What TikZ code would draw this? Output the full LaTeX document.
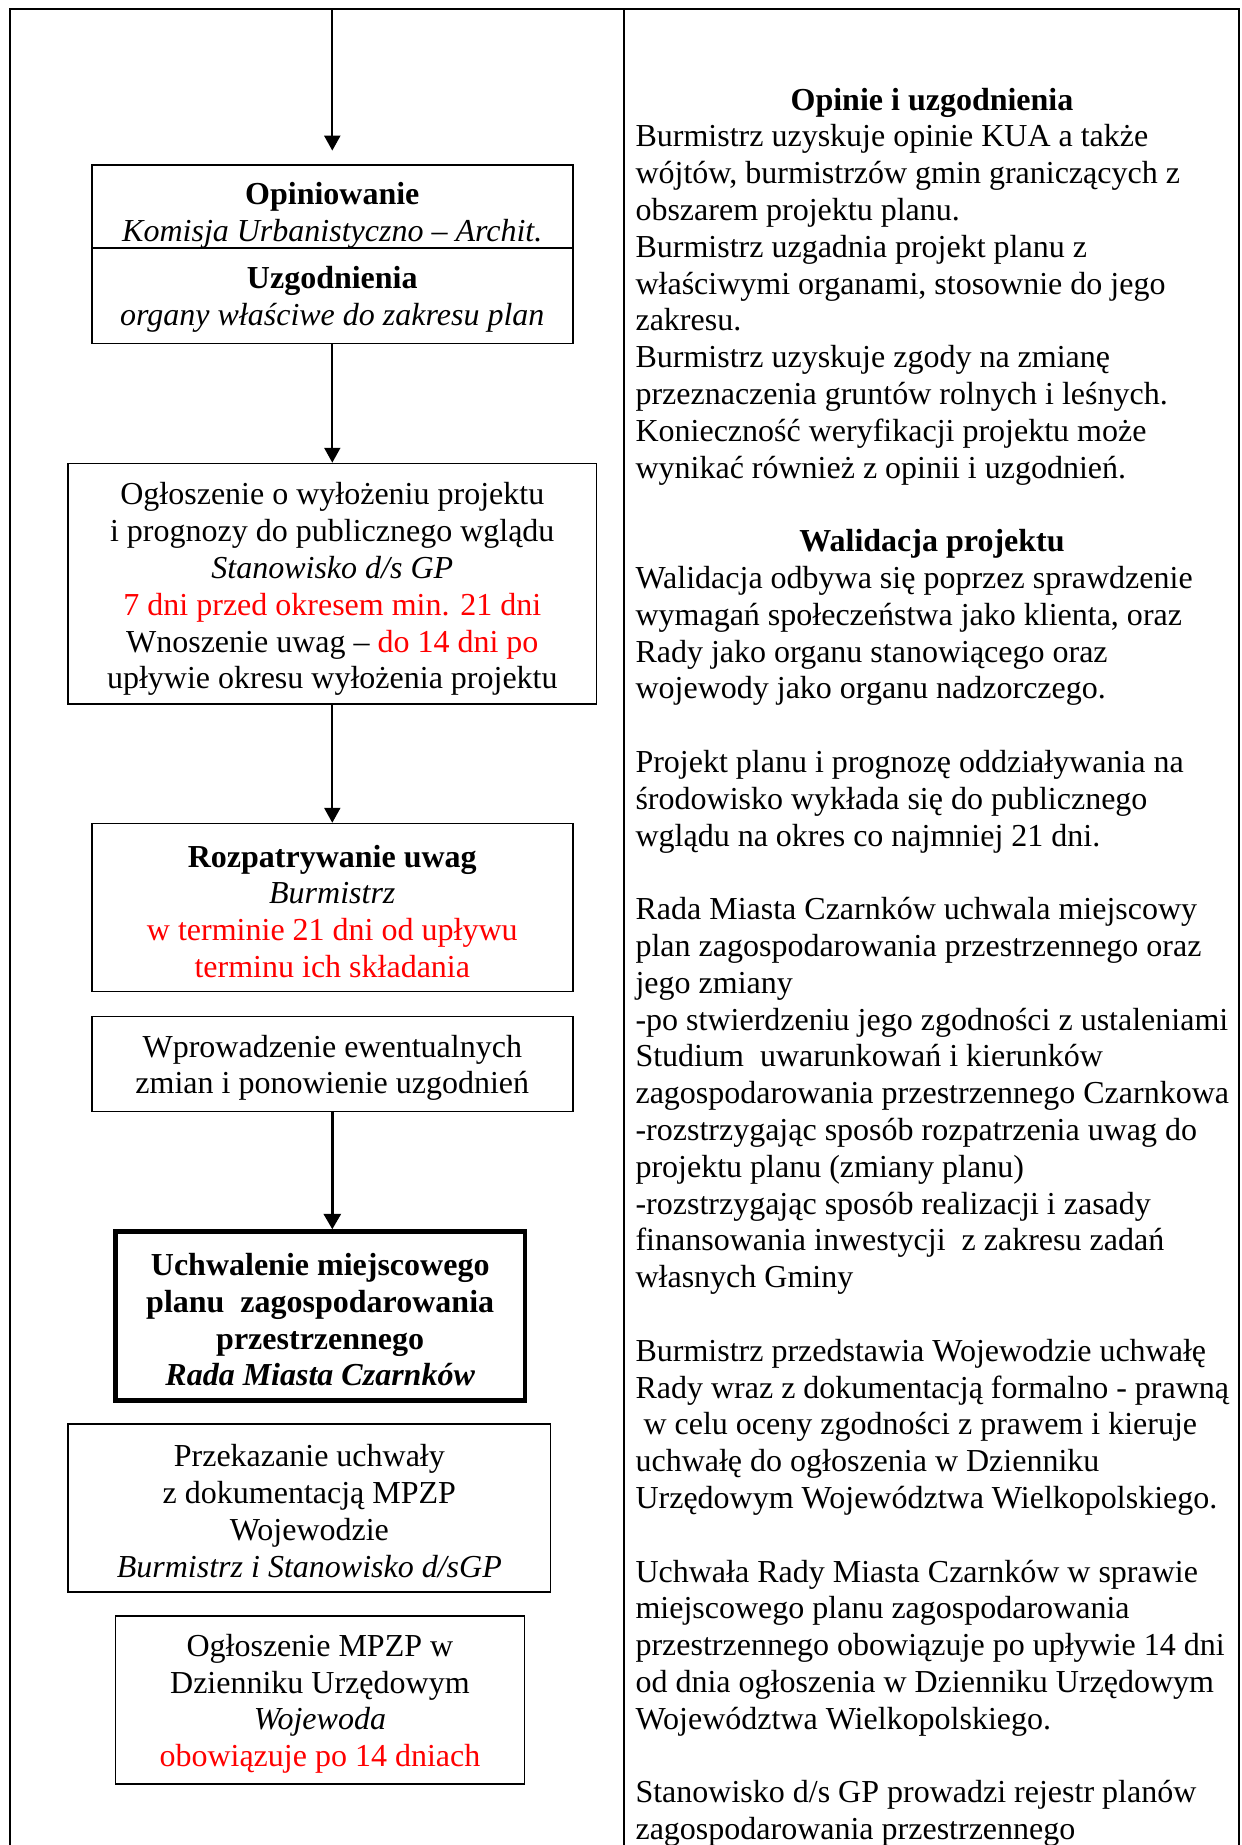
\documentclass[tikz,border=0pt]{standalone}
\usepackage{fontspec}
\setmainfont{Liberation Serif}
\usetikzlibrary{arrows.meta}
\newcommand{\lift}[1]{\rule{0pt}{#1}}
\begin{document}
\begin{tikzpicture}[x=0.375pt,y=-0.375pt,
  txt/.style={font=\fontsize{12}{13.8}\selectfont},
  box/.style={txt, draw, line width=0.6pt, inner sep=0pt, align=center},
  thickbox/.style={box, line width=1.75pt},
  frame/.style={line width=0.9pt},
  arr/.style={-{Triangle[length=5.6pt,width=6pt]}, line width=0.75pt},
  thickarr/.style={-{Triangle[length=5.8pt,width=6.4pt]}, line width=1.1pt},
  para/.style={txt, inner sep=0pt, align=left, anchor=base west},
  head/.style={txt, inner sep=0pt, anchor=base, font=\fontsize{12}{13.8}\selectfont\bfseries}]
\useasboundingbox (0,0) rectangle (1241,1845);
\clip (0,0) rectangle (1241,1845);

% frame
\coordinate (tl) at (10,9);
\coordinate (tr) at (1239,9);
\coordinate (tm) at (624,9);
\coordinate (bl) at (10,1850);
\coordinate (br) at (1239,1850);
\coordinate (bm) at (624,1850);
\draw[frame] (bl) -- (tl) -- (tr) -- (br);
\draw[frame] (tm) -- (bm);

% left column boxes
\node[box, minimum width=180.45pt, minimum height=31.3pt] (b1t) at (332.3,206.45)
  {\lift{14.8pt}\textbf{Opiniowanie}\\ \textit{Komisja Urbanistyczno – Archit.}};
\node[box, minimum width=180.45pt, minimum height=35.7pt] (b1b) at (332.3,295.85)
  {\lift{11.2pt}\textbf{Uzgodnienia}\\ \textit{organy właściwe do zakresu plan}};
\node[box, minimum width=198.1pt, minimum height=90.2pt] (b2) at (332.3,583.75)
  {\lift{12.4pt}Ogłoszenie o wyłożeniu projektu\\ i prognozy do publicznego wglądu\\ \textit{Stanowisko d/s GP}\\
   \textcolor{red}{7 dni przed okresem min. 21 dni}\\ Wnoszenie uwag – \textcolor{red}{do 14 dni po}\\
   upływie okresu wyłożenia projektu};
\node[box, minimum width=180.45pt, minimum height=63pt] (b3) at (332.3,907.55)
  {\lift{11.2pt}\textbf{Rozpatrywanie uwag}\\ \textit{Burmistrz}\\ \textcolor{red}{w terminie 21 dni od upływu}\\
   \textcolor{red}{terminu ich składania}};
\node[box, minimum width=180.45pt, minimum height=35.7pt] (b4) at (332.3,1063.95)
  {\lift{11.2pt}Wprowadzenie ewentualnych\\ zmian i ponowienie uzgodnień};
\node[thickbox, minimum width=153.6pt, minimum height=63.3pt] (b5) at (320.2,1316)
  {\lift{11.2pt}\textbf{Uchwalenie miejscowego}\\ \textbf{planu\ \ zagospodarowania}\\ \textbf{przestrzennego}\\
   \textbf{\textit{Rada Miasta Czarnków}}};
\node[box, minimum width=180.9pt, minimum height=63pt] (b6) at (309.35,1508)
  {\lift{10.6pt}Przekazanie uchwały\\ z dokumentacją MPZP\\ Wojewodzie\\ \textit{Burmistrz i Stanowisko d/sGP}};
\node[box, minimum width=153.45pt, minimum height=63pt] (b7) at (319.9,1700)
  {\lift{11.2pt}Ogłoszenie MPZP w\\ Dzienniku Urzędowym\\ \textit{Wojewoda}\\ \textcolor{red}{obowiązuje po 14 dniach}};

% arrows
\coordinate (a0s) at (332.3,9);
\coordinate (a0e) at (332.3,150.6);
\draw[arr] (a0s) -- (a0e);
\draw[arr] (b1b.south) -- (b2.north);
\draw[arr] (b2.south) -- (b3.north);
\draw[thickarr] (b4.south) -- (b4.south |- b5.north);

% right column (anchored at the baseline of each block's last line)
\node[head] (h1) at (932,110) {Opinie i uzgodnienia};
\node[para] (p1) at (635,478.0)
  {Burmistrz uzyskuje opinie KUA a także\\
   wójtów, burmistrzów gmin graniczących z\\
   obszarem projektu planu.\\
   Burmistrz uzgadnia projekt planu z\\
   właściwymi organami, stosownie do jego\\
   zakresu.\\
   Burmistrz uzyskuje zgody na zmianę\\
   przeznaczenia gruntów rolnych i leśnych.\\
   Konieczność weryfikacji projektu może\\
   wynikać również z opinii i uzgodnień.};
\node[head] (h2) at (932,551.6) {Walidacja projektu};
\node[para] (p2) at (635,698.8)
  {Walidacja odbywa się poprzez sprawdzenie\\
   wymagań społeczeństwa jako klienta, oraz\\
   Rady jako organu stanowiącego oraz\\
   wojewody jako organu nadzorczego.};
\node[para] (p3) at (635,846.0)
  {Projekt planu i prognozę oddziaływania na\\
   środowisko wykłada się do publicznego\\
   wglądu na okres co najmniej 21 dni.};
\node[para] (p4) at (635,1287.6)
  {Rada Miasta Czarnków uchwala miejscowy\\
   plan zagospodarowania przestrzennego oraz\\
   jego zmiany\\
   -po stwierdzeniu jego zgodności z ustaleniami\\
   Studium\ \ uwarunkowań i kierunków\\
   zagospodarowania przestrzennego Czarnkowa\\
   -rozstrzygając sposób rozpatrzenia uwag do\\
   projektu planu (zmiany planu)\\
   -rozstrzygając sposób realizacji i zasady\\
   finansowania inwestycji\ \ z zakresu zadań\\
   własnych Gminy};
\node[para] (p5) at (635,1508.4)
  {Burmistrz przedstawia Wojewodzie uchwałę\\
   Rady wraz z dokumentacją formalno - prawną\\
   \hspace*{3pt}w celu oceny zgodności z prawem i kieruje\\
   uchwałę do ogłoszenia w Dzienniku\\
   Urzędowym Województwa Wielkopolskiego.};
\node[para] (p6) at (635,1729.2)
  {Uchwała Rady Miasta Czarnków w sprawie\\
   miejscowego planu zagospodarowania\\
   przestrzennego obowiązuje po upływie 14 dni\\
   od dnia ogłoszenia w Dzienniku Urzędowym\\
   Województwa Wielkopolskiego.};
\node[para] (p7) at (635,1839.6)
  {Stanowisko d/s GP prowadzi rejestr planów\\
   zagospodarowania przestrzennego};
\end{tikzpicture}
\end{document}
